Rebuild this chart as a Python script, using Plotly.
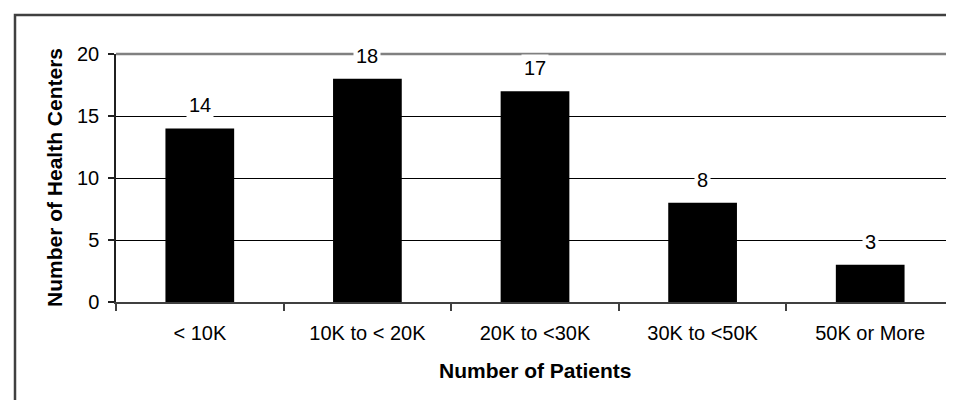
import plotly.graph_objects as go

categories = ["< 10K", "10K to < 20K", "20K to <30K", "30K to <50K", "50K or More"]
values = [14, 18, 17, 8, 3]
y_ticks = [0, 5, 10, 15, 20]
x_title = "Number of Patients"
y_title = "Number of Health Centers"

W, H = 954, 400
ML, MR, MT, MB = 108, 8, 46, 106
PW, PH = W - ML - MR, H - MT - MB

def px_to_paper_x(px):
    return (px - ML) / PW

def px_to_paper_y(py):
    return (H - MB - py) / PH

FONT = "Liberation Sans, Arial, sans-serif"

fig = go.Figure(go.Bar(
    x=categories, y=values, width=0.41,
    marker=dict(color="#000000", line=dict(width=0)),
    hoverinfo="skip",
))

annotations = []
for c, v in zip(categories, values):
    annotations.append(dict(
        x=c, y=v, xref="x", yref="y", text=str(v), showarrow=False,
        yanchor="middle", yshift=23, bgcolor="#ffffff", borderpad=2,
        font=dict(family=FONT, size=20, color="#000000"),
    ))
annotations.append(dict(
    x=px_to_paper_x(46), y=0.5, xref="paper", yref="paper", text=y_title,
    showarrow=False, textangle=-90, xanchor="center", yanchor="middle",
    font=dict(family=FONT, size=21, color="#000000", weight="bold"),
))
annotations.append(dict(
    x=0.5, y=px_to_paper_y(362), xref="paper", yref="paper", text=x_title,
    showarrow=False, xanchor="center", yanchor="middle",
    font=dict(family=FONT, size=21, color="#000000", weight="bold"),
))

shapes = [
    # plot area top and right border (gray)
    dict(type="line", xref="paper", yref="paper", x0=0, x1=1, y0=1, y1=1,
         line=dict(color="#808080", width=2.5), layer="above"),
    dict(type="line", xref="paper", yref="paper", x0=1, x1=1, y0=0, y1=1,
         line=dict(color="#808080", width=2.5), layer="above"),
    # outer chart frame (left and top visible)
    dict(type="path", xref="paper", yref="paper",
         path=f"M {px_to_paper_x(7)},{px_to_paper_y(420)} L {px_to_paper_x(7)},{px_to_paper_y(7)} L {px_to_paper_x(980)},{px_to_paper_y(7)}",
         line=dict(color="#404040", width=2.5), layer="above"),
]

fig.update_layout(
    width=W, height=H,
    margin=dict(l=ML, r=MR, t=MT, b=MB),
    paper_bgcolor="#ffffff", plot_bgcolor="#ffffff",
    showlegend=False,
    font=dict(family=FONT, size=20, color="#000000"),
    annotations=annotations,
    shapes=shapes,
    bargap=0.59,
)
fig.update_xaxes(
    type="category", range=[-0.5, 4.5],
    showline=True, linecolor="#404040", linewidth=1.5,
    ticks="outside", tickson="boundaries", ticklen=7, tickcolor="#404040", tickwidth=1.5,
    showgrid=False, ticklabelstandoff=12,
    tickfont=dict(family=FONT, size=20, color="#000000"),
)
fig.update_yaxes(
    range=[0, 20], tickvals=y_ticks,
    showline=True, linecolor="#202020", linewidth=1.5,
    ticks="outside", ticklen=6, tickcolor="#202020", tickwidth=1.5,
    showgrid=True, gridcolor="#000000", gridwidth=1,
    zeroline=False, ticklabelstandoff=5,
    tickfont=dict(family=FONT, size=20, color="#000000"),
)

fig.write_html("out.html")
